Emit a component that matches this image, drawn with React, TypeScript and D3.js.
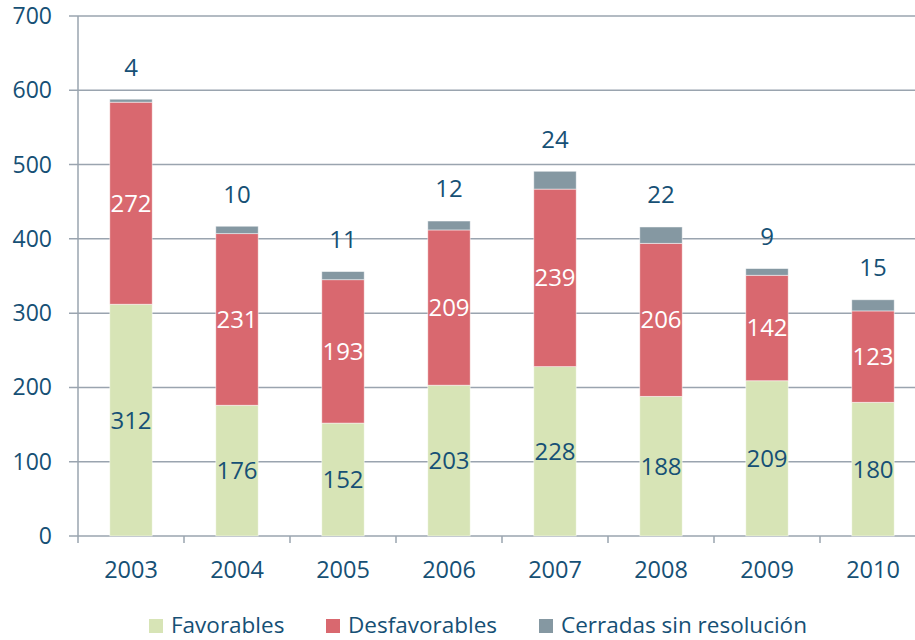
import React from "react";
import * as d3 from "d3";

const years = ["2003", "2004", "2005", "2006", "2007", "2008", "2009", "2010"];
const favorables = [312, 176, 152, 203, 228, 188, 209, 180];
const desfavorables = [272, 231, 193, 209, 239, 206, 142, 123];
const cerradas = [4, 10, 11, 12, 24, 22, 9, 15];
const seriesNames = ["Favorables", "Desfavorables", "Cerradas sin resolución"];
const yTicks = [0, 100, 200, 300, 400, 500, 600, 700];

const COLORS = ["#d7e4b6", "#d9686f", "#8598a2"];
const TEXT = "#165075";
const GRID = "#9aa4af";
const FONT = "'Open Sans', sans-serif";

export default function App() {
  const W = 915;
  const H = 640;
  const x = d3.scaleBand<string>().domain(years).range([78, 926]).padding(0);
  const y = d3.scaleLinear().domain([0, 700]).range([536, 16]);
  const bw = x.bandwidth() * 0.4;

  const rows = years.map((yr, i) => ({ yr, v: [favorables[i], desfavorables[i], cerradas[i]] }));
  const stack = d3.stack<any>().keys(["0", "1", "2"]).value((d: any, k) => d.v[+k]);
  const stacked = stack(rows);

  const legendX = [149, 326, 539];

  return (
    <svg width={W} height={H} style={{ position: "absolute", left: 0, top: 0, background: "#fff" }} fontFamily={FONT}>
      {yTicks.map((t) => (
        <g key={t}>
          <line x1={69} x2={W} y1={y(t)} y2={y(t)} stroke={GRID} strokeWidth={1.5} />
          <text x={52} y={y(t)} dy="0.35em" textAnchor="end" fontSize={23} fill={TEXT}>
            {t}
          </text>
        </g>
      ))}
      <line x1={78} x2={78} y1={y(700)} y2={y(0)} stroke={GRID} strokeWidth={1.5} />
      {d3.range(years.length + 1).map((i) => {
        const xx = 78 + i * x.step();
        return <line key={i} x1={xx} x2={xx} y1={y(0)} y2={y(0) + 7} stroke={GRID} strokeWidth={1.5} />;
      })}
      {years.map((yr) => (
        <text key={yr} x={(x(yr) as number) + x.bandwidth() / 2} y={578} textAnchor="middle" fontSize={23.5} fill={TEXT}>
          {yr}
        </text>
      ))}
      {stacked.map((s, si) =>
        s.map((d: any) => {
          const cx = (x(d.data.yr) as number) + x.bandwidth() / 2;
          return (
            <rect
              key={si + d.data.yr}
              x={cx - bw / 2}
              width={bw}
              y={y(d[1])}
              height={y(d[0]) - y(d[1])}
              fill={COLORS[si]}
              stroke="#ffffff"
              strokeOpacity={0.6}
              strokeWidth={0.8}
            />
          );
        })
      )}
      {stacked.map((s, si) =>
        s.map((d: any) => {
          const cx = (x(d.data.yr) as number) + x.bandwidth() / 2;
          const val = d[1] - d[0];
          const ly = si === 2 ? y(d[1]) - 32 : (y(d[0]) + y(d[1])) / 2;
          return (
            <text
              key={"l" + si + d.data.yr}
              x={cx}
              y={ly}
              dy="0.35em"
              textAnchor="middle"
              fontSize={24}
              fill={si === 1 ? "#ffffff" : TEXT}
            >
              {val}
            </text>
          );
        })
      )}
      {seriesNames.map((n, i) => (
        <g key={n}>
          <rect x={legendX[i]} y={619} width={14} height={14} fill={COLORS[i]} />
          <text x={legendX[i] + 22} y={633} fontSize={22.5} fill={TEXT}>
            {n}
          </text>
        </g>
      ))}
    </svg>
  );
}
